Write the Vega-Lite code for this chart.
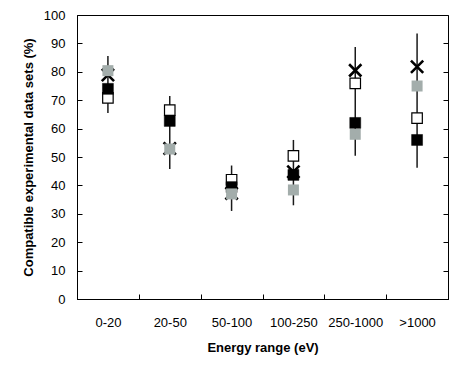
{
  "$schema": "https://vega.github.io/schema/vega-lite/v6.json",
  "width": 371,
  "height": 284,
  "autosize": {"type": "none"},
  "padding": {"left": 77, "top": 15, "right": 16, "bottom": 72},
  "background": "white",
  "config": {
    "view": {"stroke": "black", "strokeWidth": 1},
    "font": "Liberation Sans",
    "axis": {
      "labelFont": "Liberation Sans",
      "titleFont": "Liberation Sans",
      "labelFontSize": 13,
      "titleFontSize": 13,
      "titleFontWeight": "bold",
      "labelColor": "black",
      "titleColor": "black",
      "domainColor": "black",
      "tickColor": "black",
      "grid": false
    }
  },
  "datasets": {
    "err": [
      {"range": "0-20", "lo": 65.5, "hi": 85.6},
      {"range": "20-50", "lo": 45.8, "hi": 71.5},
      {"range": "50-100", "lo": 31, "hi": 47},
      {"range": "100-250", "lo": 33, "hi": 56},
      {"range": "250-1000", "lo": 50.4, "hi": 88.7},
      {"range": ">1000", "lo": 46.2, "hi": 93.5}
    ],
    "pts": [
      {"range": "0-20", "series": "cross", "value": 78.9},
      {"range": "0-20", "series": "open", "value": 70.8},
      {"range": "0-20", "series": "black", "value": 74},
      {"range": "0-20", "series": "gray", "value": 80.4},
      {"range": "20-50", "series": "cross", "value": 53},
      {"range": "20-50", "series": "open", "value": 66.5},
      {"range": "20-50", "series": "black", "value": 62.7},
      {"range": "20-50", "series": "gray", "value": 52.8},
      {"range": "50-100", "series": "cross", "value": 37.2},
      {"range": "50-100", "series": "open", "value": 42},
      {"range": "50-100", "series": "black", "value": 39.4},
      {"range": "50-100", "series": "gray", "value": 37},
      {"range": "100-250", "series": "cross", "value": 44.8},
      {"range": "100-250", "series": "open", "value": 50.4},
      {"range": "100-250", "series": "black", "value": 43.7},
      {"range": "100-250", "series": "gray", "value": 38.4},
      {"range": "250-1000", "series": "cross", "value": 80.5},
      {"range": "250-1000", "series": "open", "value": 75.9},
      {"range": "250-1000", "series": "black", "value": 62},
      {"range": "250-1000", "series": "gray", "value": 58},
      {"range": ">1000", "series": "cross", "value": 81.8},
      {"range": ">1000", "series": "open", "value": 63.7},
      {"range": ">1000", "series": "black", "value": 56},
      {"range": ">1000", "series": "gray", "value": 75}
    ]
  },
  "resolve": {"axis": {"y": "independent", "x": "independent"}},
  "layer": [
    {
      "data": {"name": "err"},
      "mark": {"type": "rule", "color": "#1a1a1a", "strokeWidth": 1.5},
      "encoding": {
        "x": {
          "field": "range", "type": "nominal",
          "sort": ["0-20", "20-50", "50-100", "100-250", "250-1000", ">1000"],
          "scale": {"paddingInner": 0, "paddingOuter": 0},
          "axis": {
            "title": "Energy range (eV)",
            "labelAngle": 0,
            "tickBand": "extent",
            "tickSize": -5,
            "labelPadding": 22,
            "titlePadding": 12
          }
        },
        "y": {
          "field": "lo", "type": "quantitative",
          "scale": {"domain": [0, 100], "nice": false},
          "axis": {
            "title": "Compatible experimental data sets (%)",
            "values": [0, 10, 20, 30, 40, 50, 60, 70, 80, 90, 100],
            "tickSize": -5,
            "labelPadding": 17,
            "titlePadding": 8
          }
        },
        "y2": {"field": "hi"}
      }
    },
    {
      "data": {"name": "pts"},
      "transform": [{"filter": "datum.series === 'cross'"}],
      "mark": {"type": "point", "shape": "M-1,-1L1,1M-1,1L1,-1", "filled": false, "stroke": "black", "strokeWidth": 2.6, "size": 150, "opacity": 1},
      "encoding": {
        "x": {"field": "range", "type": "nominal", "sort": ["0-20", "20-50", "50-100", "100-250", "250-1000", ">1000"], "axis": null},
        "y": {
          "field": "value", "type": "quantitative",
          "axis": {
            "orient": "right",
            "title": null,
            "labels": false,
            "domain": false,
            "values": [0, 10, 20, 30, 40, 50, 60, 70, 80, 90, 100],
            "tickSize": -5
          }
        }
      }
    },
    {
      "data": {"name": "pts"},
      "transform": [{"filter": "datum.series === 'open'"}],
      "mark": {"type": "square", "fill": "white", "stroke": "black", "strokeWidth": 1.2, "size": 110, "opacity": 1},
      "encoding": {
        "x": {"field": "range", "type": "nominal", "sort": ["0-20", "20-50", "50-100", "100-250", "250-1000", ">1000"], "axis": null},
        "y": {"field": "value", "type": "quantitative", "axis": null}
      }
    },
    {
      "data": {"name": "pts"},
      "transform": [{"filter": "datum.series === 'black'"}],
      "mark": {"type": "square", "fill": "black", "stroke": "black", "strokeWidth": 0.5, "size": 120, "opacity": 1},
      "encoding": {
        "x": {"field": "range", "type": "nominal", "sort": ["0-20", "20-50", "50-100", "100-250", "250-1000", ">1000"], "axis": null},
        "y": {"field": "value", "type": "quantitative", "axis": null}
      }
    },
    {
      "data": {"name": "pts"},
      "transform": [{"filter": "datum.series === 'gray'"}],
      "mark": {"type": "square", "fill": "#a3adab", "size": 121, "opacity": 1},
      "encoding": {
        "x": {"field": "range", "type": "nominal", "sort": ["0-20", "20-50", "50-100", "100-250", "250-1000", ">1000"], "axis": null},
        "y": {"field": "value", "type": "quantitative", "axis": null}
      }
    }
  ]
}
